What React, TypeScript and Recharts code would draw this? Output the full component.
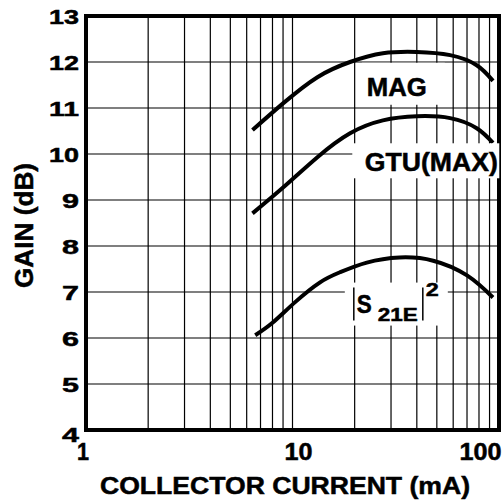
import React from "react";
import {
  LineChart,
  Line,
  XAxis,
  YAxis,
  CartesianGrid,
  ReferenceArea,
  ReferenceDot,
} from "recharts";

// collector current (mA) / gain (dB)
const magCurrent = [6.4, 9, 13.2, 19, 27.4, 40, 58, 78, 93.5];
const magGain = [10.52, 11.1, 11.67, 12.0, 12.19, 12.22, 12.15, 11.93, 11.59];

const gtuCurrent = [6.4, 9, 13.2, 19, 27.4, 40, 58, 78, 93.5];
const gtuGain = [8.71, 9.27, 9.93, 10.45, 10.73, 10.82, 10.78, 10.56, 10.24];

const s21Current = [6.6, 8, 10.3, 13.6, 17, 22.9, 33, 48, 70, 93.5];
const s21Gain = [6.06, 6.33, 6.78, 7.21, 7.43, 7.64, 7.75, 7.68, 7.36, 6.88];

const xGridTicks = [1, 2, 3, 4, 5, 6, 7, 8, 9, 10, 20, 30, 40, 50, 60, 70, 80, 90, 100];
const xLabelTicks = [1, 10, 100];
const yTicks = [4, 5, 6, 7, 8, 9, 10, 11, 12, 13];

const FONT = '"Liberation Sans", Arial, Helvetica, sans-serif';

const toRows = (xs: number[], ys: number[]) => xs.map((x, i) => ({ x, y: ys[i] }));

const magData = toRows(magCurrent, magGain);
const gtuData = toRows(gtuCurrent, gtuGain);
const s21Data = toRows(s21Current, s21Gain);

const textStyle = {
  fontFamily: FONT,
  fontWeight: 700,
  fill: "#000",
  stroke: "#000",
  strokeWidth: 0.5,
  lengthAdjust: "spacingAndGlyphs",
};

function XTick(props: any) {
  const { x, y, payload } = props;
  const v = payload.value;
  if (!xLabelTicks.includes(v)) return <g />;
  const dx = v === 100 ? -18.5 : v === 1 ? -3 : 6;
  const len = v === 100 ? 42 : v === 10 ? 28 : 12;
  return (
    <text x={x + dx} y={y + 30} textAnchor="middle" fontSize={23} textLength={len} {...textStyle}>
      {v}
    </text>
  );
}

function YTick(props: any) {
  const { x, y, payload } = props;
  const v = payload.value;
  const dy = v === 4 ? 12 : 8;
  const len = v >= 10 ? 30 : 17;
  return (
    <text x={x} y={y + dy} textAnchor="end" fontSize={21} textLength={len} {...textStyle}>
      {v}
    </text>
  );
}

function CurveLabel({ cx, cy, text, len, box }: any) {
  const [l, r, t, b] = box;
  return (
    <g>
      <rect x={cx + l} y={cy + t} width={r - l} height={b - t} fill="#fff" />
      <text x={cx} y={cy + 8.5} textAnchor="middle" fontSize={25} textLength={len} {...textStyle}>
        {text}
      </text>
    </g>
  );
}

function S21Label({ cx, cy }: any) {
  return (
    <g>
      <rect x={cx - 52} y={cy - 20} width={103} height={43} fill="#fff" />
      <line x1={cx - 43} y1={cy - 15} x2={cx - 43} y2={cy + 18} stroke="#000" strokeWidth={1.5} />
      <line x1={cx + 26} y1={cy - 15} x2={cx + 26} y2={cy + 18} stroke="#000" strokeWidth={1.5} />
      <text x={cx - 40} y={cy + 10} fontSize={25} textLength={15} {...textStyle}>S</text>
      <text x={cx - 19} y={cy + 18} fontSize={18} textLength={40} {...textStyle}>21E</text>
      <text x={cx + 29} y={cy - 7} fontSize={18} textLength={13} {...textStyle}>2</text>
    </g>
  );
}

export default function App() {
  return (
    <div style={{ position: "absolute", left: 0, top: 0, background: "#fff" }}>
      <LineChart width={502} height={502} margin={{ top: 16, right: 3, bottom: 42, left: 0 }}>
        <CartesianGrid stroke="#000" strokeWidth={1.2} />
        <XAxis
          type="number"
          dataKey="x"
          scale="log"
          domain={[1, 100]}
          ticks={xGridTicks}
          interval={0}
          allowDataOverflow
          axisLine={false}
          tickLine={false}
          tickSize={0}
          tickMargin={0}
          height={30}
          tick={<XTick />}
          label={{
            content: () => (
              <text x={285} y={494} textAnchor="middle" fontSize={24} textLength={370} {...textStyle}>
                COLLECTOR CURRENT (mA)
              </text>
            ),
          }}
        />
        <YAxis
          type="number"
          domain={[4, 13]}
          ticks={yTicks}
          interval={0}
          allowDataOverflow
          axisLine={false}
          tickLine={false}
          tickSize={7}
          tickMargin={0}
          width={86}
          tick={<YTick />}
          label={{
            content: () => (
              <text
                x={32.5}
                y={225.5}
                transform="rotate(-90 32.5 225.5)"
                textAnchor="middle"
                fontSize={25}
                textLength={125}
                {...textStyle}
              >
                GAIN (dB)
              </text>
            ),
          }}
        />
        <ReferenceDot
          x={32}
          y={11.44}
          r={0}
          shape={(p: any) => <CurveLabel {...p} text="MAG" len={60} box={[-35, 48, -25, 17]} />}
        />
        <ReferenceDot
          x={47}
          y={9.82}
          r={0}
          shape={(p: any) => <CurveLabel {...p} text="GTU(MAX)" len={133} box={[-79, 68, -19, 16]} />}
        />
        <ReferenceDot x={32} y={6.77} r={0} shape={(p: any) => <S21Label {...p} />} />
        <Line data={magData} dataKey="y" type="natural" stroke="#000" strokeWidth={4} dot={false} isAnimationActive={false} />
        <Line data={gtuData} dataKey="y" type="natural" stroke="#000" strokeWidth={4} dot={false} isAnimationActive={false} />
        <Line data={s21Data} dataKey="y" type="natural" stroke="#000" strokeWidth={4} dot={false} isAnimationActive={false} />
        <ReferenceArea x1={1} x2={100} y1={4} y2={13} fill="none" stroke="#000" strokeWidth={4} ifOverflow="visible" />
      </LineChart>
    </div>
  );
}
